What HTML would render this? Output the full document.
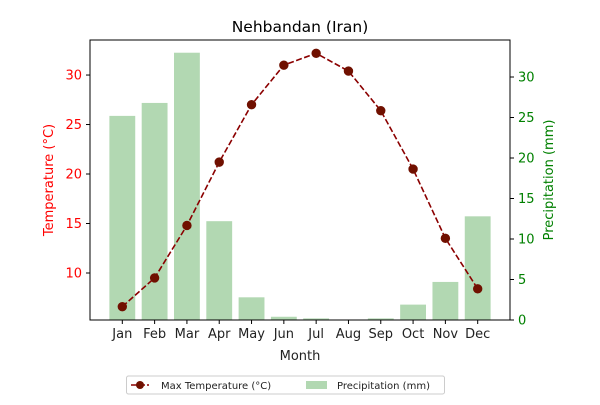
<!DOCTYPE html>
<html><head><meta charset="utf-8"><style>
body{margin:0;background:#fff;}
svg text{font-family:"DejaVu Sans","Liberation Sans",sans-serif;}
</style></head><body>
<svg id="chart" width="600" height="400" xmlns="http://www.w3.org/2000/svg">
<rect width="600" height="400" fill="#fff"/>
<g id="bars"></g><g id="line"></g><g id="axes"></g>
</svg>
<script>
const months=["Jan","Feb","Mar","Apr","May","Jun","Jul","Aug","Sep","Oct","Nov","Dec"];
const temps=[6.6,9.5,14.8,21.2,27.0,31.0,32.2,30.4,26.4,20.5,13.5,8.4];
const precip=[25.2,26.8,33.0,12.2,2.8,0.4,0.2,0.05,0.2,1.9,4.7,12.8];
const tempTicks=[10,15,20,25,30];
const precipTicks=[0,5,10,15,20,25,30];
const NS="http://www.w3.org/2000/svg";
const L=90,R=510,T=40,B=320;
const x=i=>L+(i+1)/13*(R-L);
const yT=v=>B-(v-5.25)/(33.54-5.25)*(B-T);
const yP=v=>B-v/34.57*(B-T);
function mk(tag,attrs,parent,txt){const e=document.createElementNS(NS,tag);for(const k in attrs)e.setAttribute(k,attrs[k]);if(txt!==undefined)e.textContent=txt;document.getElementById(parent).appendChild(e);return e;}
const bw=0.8*(R-L)/13;
precip.forEach((p,i)=>{const r=mk('rect',{x:x(i)-bw/2,y:yP(p),width:bw,height:B-yP(p),fill:'#b2d8b2'},'bars');

});
const pl=mk('polyline',{points:temps.map((t,i)=>x(i)+','+yT(t)).join(' '),fill:'none',stroke:'#8b0000','stroke-width':1.6,'stroke-dasharray':'6,2.5'},'line');


temps.forEach((t,i)=>{const c=mk('circle',{cx:x(i),cy:yT(t),r:4.2,fill:'#701000',stroke:'#701000'},'line');

});
const fr=mk('rect',{x:L,y:T,width:R-L,height:B-T,fill:'none',stroke:'#000','stroke-width':1},'axes');

months.forEach((m,i)=>{mk('line',{x1:x(i),x2:x(i),y1:B,y2:B+4,stroke:'#000'},'axes');
const t=mk('text',{x:x(i),y:B+18,'text-anchor':'middle','font-size':13,fill:'#222'},'axes',m);
});
tempTicks.forEach(v=>{mk('line',{x1:L-4,x2:L,y1:yT(v),y2:yT(v),stroke:'#000'},'axes');
const t=mk('text',{x:L-8,y:yT(v)+4.5,'text-anchor':'end','font-size':13,fill:'red'},'axes',v);
});
precipTicks.forEach(v=>{mk('line',{x1:R,x2:R+4,y1:yP(v),y2:yP(v),stroke:'#000'},'axes');
const t=mk('text',{x:R+8,y:yP(v)+4.5,'font-size':13,fill:'green'},'axes',v);
});
let e;
e=mk('text',{x:300,y:32,'text-anchor':'middle','font-size':15.5,fill:'#000'},'axes','Nehbandan (Iran)');
e=mk('text',{x:300,y:360,'text-anchor':'middle','font-size':13,fill:'#222'},'axes','Month');
e=mk('text',{x:0,y:0,'text-anchor':'middle','font-size':13,fill:'red',transform:'translate(53,180) rotate(-90)'},'axes','Temperature (°C)');
e=mk('text',{x:0,y:0,'text-anchor':'middle','font-size':13,fill:'green',transform:'translate(553,180) rotate(-90)'},'axes','Precipitation (mm)');
e=mk('rect',{x:126.5,y:376,width:318,height:18,rx:2,fill:'#fff',stroke:'#ccc'},'axes');
mk('line',{x1:131,x2:149,y1:385,y2:385,stroke:'#8b0000','stroke-width':1.6,'stroke-dasharray':'6,2'},'axes');
mk('circle',{cx:140,cy:385,r:4,fill:'#701000'},'axes');
e=mk('text',{x:161,y:389,'font-size':10,fill:'#222'},'axes','Max Temperature (°C)');
mk('rect',{x:306,y:381,width:21,height:8,fill:'#b2d8b2'},'axes');
e=mk('text',{x:337,y:389,'font-size':10,fill:'#222'},'axes','Precipitation (mm)');
</script>
</body></html>
